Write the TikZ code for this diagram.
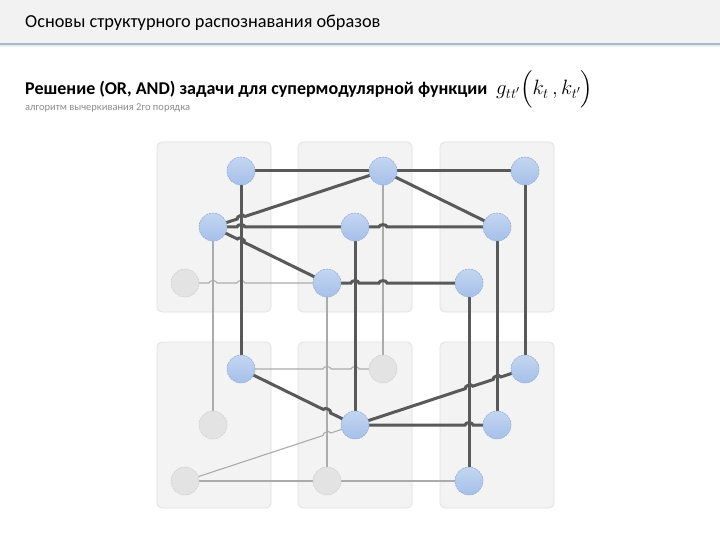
\documentclass[tikz,border=0pt]{standalone}
\usepackage{amsmath}
\usepackage{fontspec}
\setmainfont{Carlito}
\usetikzlibrary{calc}
\definecolor{hdr}{HTML}{F2F2F2}
\definecolor{hdrline}{HTML}{A7B9CB}
\definecolor{panelfill}{HTML}{F3F3F3}
\definecolor{panelline}{HTML}{E0E0E0}
\definecolor{thickc}{HTML}{595959}
\definecolor{thinc}{HTML}{ABABAB}
\definecolor{bluefill}{HTML}{A6C0E9}
\definecolor{bluetop}{HTML}{C3D6F1}
\definecolor{blueline}{HTML}{8AA6D6}
\definecolor{grayfill}{HTML}{E3E3E3}
\definecolor{grayline}{HTML}{CCCCCC}
\definecolor{subc}{HTML}{8C8C8C}
\newcommand{\hopto}[4]{-- ($(#1)!{#3-#4}!(#2)$) to[bend left=90] ($(#1)!{#3+#4}!(#2)$)}
\tikzset{
  panel/.style={draw=panelline, fill=panelfill, rounded corners=5pt, line width=0.8pt},
  bnode/.style={circle, minimum size=28pt, inner sep=0pt, draw=blueline, dash pattern=on 2pt off 1pt, line width=0.5pt, top color=bluetop, bottom color=bluefill},
  gnode/.style={circle, minimum size=28pt, inner sep=0pt, draw=grayline, dash pattern=on 2pt off 1pt, line width=0.5pt, fill=grayfill},
  thk/.style={draw=thickc, line width=3pt},
  thn/.style={draw=thinc, line width=1.1pt},
}
\begin{document}
\begin{tikzpicture}[x=1pt,y=-1pt]
\useasboundingbox (0,0) rectangle (720,540);
\fill[white] (0,0) rectangle (720,540);
% header
\fill[hdr] (0,0) rectangle (720,43);
\fill[hdrline] (0,43) rectangle (720,45.5);
\fill[hdrline!25] (0,45.5) rectangle (720,47);
\node[anchor=base west, inner sep=0pt, font=\fontsize{18.3}{20}\selectfont] (title) at (25,28) {Основы структурного распознавания образов};
\node[anchor=base west, inner sep=0pt, font=\bfseries\fontsize{18}{20}\selectfont] (sub) at (25,95) {Решение (OR, AND) задачи для супермодулярной функции};
\node[anchor=base west, inner sep=0pt, font=\fontsize{22}{24}\selectfont] (math) at (496,95) {$g_{tt'}\Bigl(k_t\,, k_{t'}\Bigr)$};
\node[anchor=base west, inner sep=0pt, text=subc, font=\fontsize{10.5}{12}\selectfont] (alg) at (25,111) {алгоритм вычеркивания 2го порядка};
% panels
\foreach \px in {157,298,440}{
  \draw[panel] (\px,142) rectangle ++(114,170);
  \draw[panel] (\px,342) rectangle ++(114,166);
}
% node coordinates
\coordinate (p11) at (241,171); \coordinate (p12) at (213,227); \coordinate (p13) at (185,283);
\coordinate (p21) at (383,171); \coordinate (p22) at (355,227); \coordinate (p23) at (327,283);
\coordinate (p31) at (525,171); \coordinate (p32) at (497,227); \coordinate (p33) at (469,283);
\coordinate (q11) at (241,369); \coordinate (q12) at (213,425); \coordinate (q13) at (185,481);
\coordinate (q21) at (383,369); \coordinate (q22) at (355,425); \coordinate (q23) at (327,481);
\coordinate (q31) at (525,369); \coordinate (q32) at (497,425); \coordinate (q33) at (469,481);
% thin lines
\draw[thn] (p12) -- (q12);
\draw[thn] (p23) -- (q23);
\draw[thn] (p21) -- (q21);
\draw[thn] (p13) \hopto{p13}{p23}{0.197}{0.028} \hopto{p13}{p23}{0.394}{0.028} -- (p23);
\draw[thn] (q11) \hopto{q11}{q21}{0.606}{0.028} \hopto{q11}{q21}{0.803}{0.028} -- (q21);
\draw[thn] (q13) \hopto{q13}{q22}{0.835}{0.0223} -- (q22);
\draw[thn] (q13) -- (q23);
\draw[thn] (q23) -- (q33);
% thick lines
\draw[thk] (p11) -- (q11);
\draw[thk] (p22) -- (q22);
\draw[thk] (p33) -- (q33);
\draw[thk] (p32) -- (q32);
\draw[thk] (p31) -- (q31);
\draw[thk] (p11) -- (p21);
\draw[thk] (p21) -- (p31);
\draw[thk] (p21) -- (p32);
\draw[thk] (p12) \hopto{p12}{p21}{0.1647}{0.0223} -- (p21);
\draw[thk] (p12) \hopto{p12}{p22}{0.197}{0.028} -- (p22);
\draw[thk] (p22) \hopto{p22}{p32}{0.197}{0.028} -- (p32);
\draw[thk] (p12) \hopto{p12}{p23}{0.2456}{0.0315} -- (p23);
\draw[thk] (p23) \hopto{p23}{p33}{0.197}{0.028} \hopto{p23}{p33}{0.394}{0.028} -- (p33);
\draw[thk] (q11) \hopto{q11}{q22}{0.754}{0.0315} -- (q22);
\draw[thk] (q22) \hopto{q22}{q31}{0.6706}{0.0223} \hopto{q22}{q31}{0.8353}{0.0223} -- (q31);
\draw[thk] (q22) \hopto{q22}{q32}{0.803}{0.028} -- (q32);
% nodes
\node[bnode] (n11) at (p11) {};
\node[bnode] (n12) at (p12) {};
\node[gnode] (n13) at (p13) {};
\node[bnode] (n21) at (p21) {};
\node[bnode] (n22) at (p22) {};
\node[bnode] (n23) at (p23) {};
\node[bnode] (n31) at (p31) {};
\node[bnode] (n32) at (p32) {};
\node[bnode] (n33) at (p33) {};
\node[bnode] (m11) at (q11) {};
\node[gnode] (m12) at (q12) {};
\node[gnode] (m13) at (q13) {};
\node[gnode] (m21) at (q21) {};
\node[bnode] (m22) at (q22) {};
\node[gnode] (m23) at (q23) {};
\node[bnode] (m31) at (q31) {};
\node[bnode] (m32) at (q32) {};
\node[bnode] (m33) at (q33) {};
\end{tikzpicture}
\end{document}
